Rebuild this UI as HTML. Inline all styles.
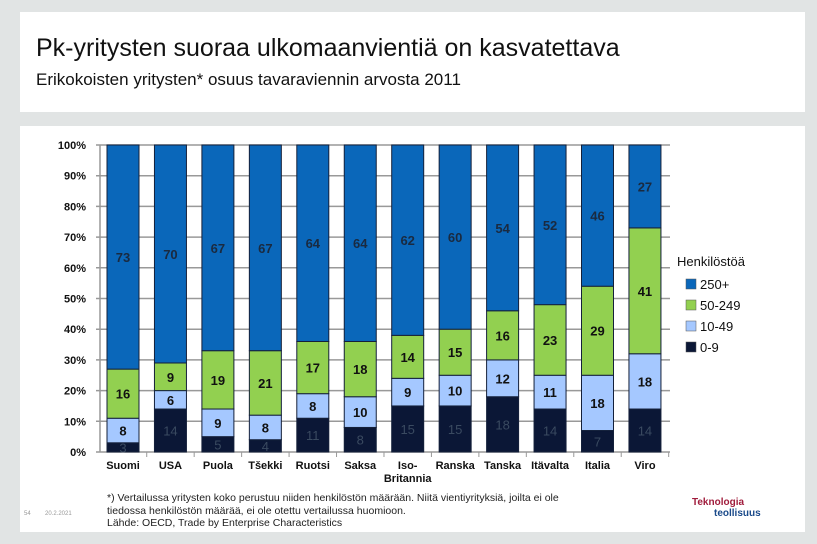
<!DOCTYPE html>
<html><head><meta charset="utf-8"><style>
body{margin:0;width:817px;height:544px;background:#e1e4e4;font-family:"Liberation Sans",sans-serif;position:relative;overflow:hidden}
.panel{position:absolute;background:#fff}
</style></head><body>
<div class="panel" style="left:20px;top:12px;width:785px;height:100px">
<div style="position:absolute;left:16px;top:22px;font-size:25px;color:#111">Pk-yritysten suoraa ulkomaanvientiä on kasvatettava</div>
<div style="position:absolute;left:16px;top:58px;font-size:17px;color:#111">Erikokoisten yritysten* osuus tavaraviennin arvosta 2011</div>
</div>
<div class="panel" style="left:20px;top:126px;width:785px;height:406px"></div>
<svg id="c" width="817" height="544" style="position:absolute;left:0;top:0"></svg>
<div style="position:absolute;left:107px;top:492px;font-size:10.5px;line-height:12.5px;color:#222">*) Vertailussa yritysten koko perustuu niiden henkilöstön määrään. Niitä vientiyrityksiä, joilta ei ole<br>tiedossa henkilöstön määrää, ei ole otettu vertailussa huomioon.<br>Lähde: OECD, Trade by Enterprise Characteristics</div>
<div style="position:absolute;left:24px;top:511px;font-size:6px;color:#999">54</div>
<div style="position:absolute;left:45px;top:511px;font-size:6px;color:#999">20.2.2021</div>
<div style="position:absolute;left:692px;top:497px;font-size:10px;font-weight:bold;line-height:11px"><span style="color:#a01c3c">Teknologia</span><br><span style="color:#1a4a8a;margin-left:22px">teollisuus</span></div>
<script>
const categories=["Suomi","USA","Puola","Tšekki","Ruotsi","Saksa","Iso-Britannia","Ranska","Tanska","Itävalta","Italia","Viro"];
const s09=[3,14,5,4,11,8,15,15,18,14,7,14];
const s1049=[8,6,9,8,8,10,9,10,12,11,18,18];
const s50249=[16,9,19,21,17,18,14,15,16,23,29,41];
const s250=[73,70,67,67,64,64,62,60,54,52,46,27];
const yTicks=[0,10,20,30,40,50,60,70,80,90,100];
const seriesNames=["250+","50-249","10-49","0-9"];
const colors=["#0a67ba","#92d050","#a5c8ff","#0b1736"];
const svg=document.getElementById('c');const NS="http://www.w3.org/2000/svg";
function el(t,a,p){const e=document.createElementNS(NS,t);for(const k in a)e.setAttribute(k,a[k]);(p||svg).appendChild(e);return e;}
const y=v=>452-v*3.07, x0=100, step=47.45, x=i=>123+i*step;
yTicks.forEach(t=>{const g=el('line',{x1:x0-4,x2:670,y1:y(t),y2:y(t),stroke:'#999','stroke-width':1.5});

const tx=el('text',{x:86,y:y(t)+4,'text-anchor':'end','font-size':11,'font-weight':'bold',fill:'#111'});tx.textContent=t+'%';
});
el('line',{x1:x0,x2:x0,y1:y(0),y2:y(100),stroke:'#999','stroke-width':1.5});
const series=[s09,s1049,s50249,s250];
const txtCol=["#3a4a60","#111","#111","#1a2a40"];
categories.forEach((c,i)=>{let base=0;
series.forEach((s,k)=>{const v=k==3?100-base:s[i];const top=base+v;
const r=el('rect',{x:x(i)-16,y:y(top),width:32,height:y(base)-y(top),fill:colors[3-k],stroke:'#14203a','stroke-width':1});

const t=el('text',{x:x(i),y:(y(base)+y(top))/2+5,'text-anchor':'middle','font-size':13,'font-weight':k==0?'normal':'bold',fill:txtCol[k]});t.textContent=s[i];

base=top;});
el('line',{x1:x(i)+step/2,x2:x(i)+step/2,y1:452,y2:457,stroke:'#999'});
const parts=c==="Iso-Britannia"?["Iso-","Britannia"]:[c];
parts.forEach((p,j)=>{const t=el('text',{x:x(i),y:469+j*13,'text-anchor':'middle','font-size':11,'font-weight':'bold',fill:'#111'});t.textContent=p;
});});
const lt=el('text',{x:677,y:266,'font-size':13,fill:'#111'});lt.textContent="Henkilöstöä";

seriesNames.forEach((n,k)=>{const yy=284+k*21;
const r=el('rect',{x:686,y:yy-5,width:10,height:10,fill:colors[k],stroke:'#555','stroke-width':0.5});

const t=el('text',{x:700,y:yy+5,'font-size':13,fill:'#111'});t.textContent=n;
});
</script>
</body></html>
